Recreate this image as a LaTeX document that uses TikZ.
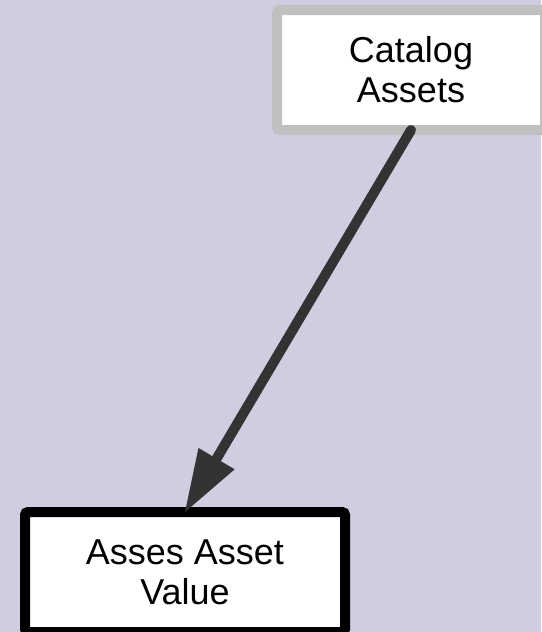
\documentclass[tikz,border=0pt]{standalone}
\usepackage{fontspec}
\setmainfont{Liberation Sans}
\usetikzlibrary{arrows.meta}
\definecolor{canvas}{HTML}{CFCDE0}
\definecolor{softgray}{HTML}{C0C0C0}
\definecolor{arrowgray}{HTML}{333333}
\begin{document}
\begin{tikzpicture}[x=1pt,y=1pt,
  box/.style={draw, fill=white, line width=10pt, rounded corners=3pt,
    minimum height=120pt, outer sep=0pt, inner sep=0pt, align=center,
    font=\fontsize{36}{40}\selectfont},
  flow/.style={draw=arrowgray, line width=10pt, line cap=round,
    -{Triangle[length=62pt,width=42pt,line width=0pt]}, fill=arrowgray}]
  % canvas
  \fill[canvas] (0,0) rectangle (541,-632);
  \useasboundingbox (0,0) rectangle (541,-632);
  % process boxes
  \node[box, draw=softgray, minimum width=268pt] (catalog) at (411,-70) {Catalog\\Assets};
  \node[box, draw=black, minimum width=320pt] (assess) at (185,-572) {Asses Asset\\Value};
  % flow between them
  \draw[flow] (catalog.south) -- (assess.north);
\end{tikzpicture}
\end{document}
